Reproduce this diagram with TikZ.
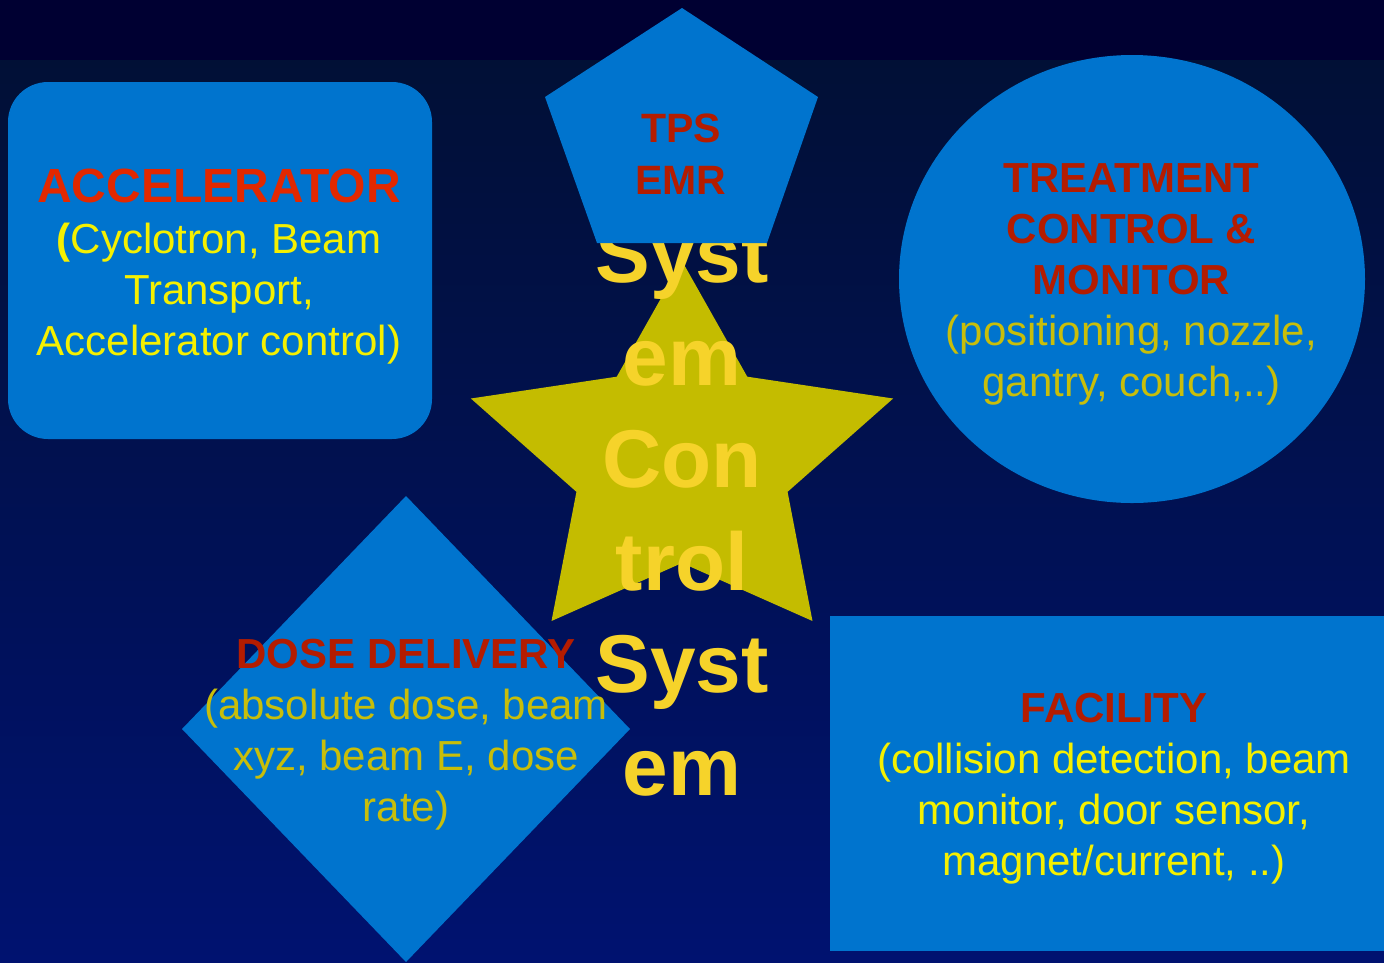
\documentclass[tikz,border=0pt]{standalone}
\usepackage{fontspec}
\setmainfont{Liberation Sans}
\definecolor{SlideTop}{RGB}{0,0,50}
\definecolor{SlideHigh}{RGB}{1,16,54}
\definecolor{SlideLow}{RGB}{0,18,112}
\definecolor{PanelBlue}{RGB}{0,116,206}
\definecolor{StarGold}{RGB}{196,188,0}
\definecolor{StarText}{RGB}{246,211,42}
\definecolor{HeadRed}{RGB}{180,28,0}
\definecolor{HeadBright}{RGB}{226,40,0}
\definecolor{BodyYellow}{RGB}{245,240,0}
\definecolor{BodyOlive}{RGB}{200,190,10}
\newcommand{\blockhead}[1]{{\bfseries\color{HeadRed}#1}}

\begin{document}
\begin{tikzpicture}[x=1pt,y=-1pt,
    panel/.style={fill=PanelBlue},
    blurb/.style={align=center,inner sep=0pt,
                  font=\fontsize{42}{51}\selectfont},
    bigword/.style={align=center,inner sep=0pt,text=StarText,
                    font=\fontsize{82}{102.5}\selectfont\bfseries}]
    \useasboundingbox (0,0) rectangle (1384,962);
    \fill[SlideTop] (0,0) rectangle (1384,60);
    \fill[top color=SlideHigh,bottom color=SlideLow] (0,60) rectangle (1384,962);
    % shapes
    \fill[panel] (406,496) -- (630,729) -- (406,962) -- (182,729) -- cycle;
    \fill[panel,rounded corners=40pt] (8,82) rectangle (432,439);
    \fill[panel] (1132,279) ellipse [x radius=233,y radius=224];
    \fill[panel] (830,616) rectangle (1398,951);
    \fill[StarGold,shift={(682,460)}] (-90:222 and 199)
        \foreach \k in {0,...,4}{ -- (-54+72*\k:111 and 103) -- (-18+72*\k:222 and 199)} -- cycle;
    \node[bigword] (core) at (682,511) {Syst\\em\\Con\\trol\\Syst\\em};
    \fill[panel] (682,8) -- (818,97) -- (767,243) -- (597,243) -- (545,97) -- cycle;
    % texts
    \node[blurb,text=HeadRed,font=\fontsize{41}{52}\selectfont\bfseries] (tps) at (681,154) {TPS\\EMR};
    \node[blurb,text=BodyYellow] (accel) at (219,267)
        {{\fontsize{48}{51}\selectfont\bfseries\color{HeadBright}ACCELERATOR}\\
         {\bfseries(}Cyclotron, Beam\\Transport,\\Accelerator control)};
    \node[blurb,text=BodyOlive] (treat) at (1131.5,284.5)
        {\blockhead{TREATMENT}\\\blockhead{CONTROL \&}\\\blockhead{MONITOR}\\
         (positioning, nozzle,\\gantry, couch,..)};
    \node[blurb,text=BodyOlive] (dose) at (406,735)
        {\blockhead{DOSE DELIVERY}\\(absolute dose, beam\\xyz, beam E, dose\\rate)};
    \node[blurb,text=BodyYellow] (facil) at (1114,789)
        {\blockhead{FACILITY}\\(collision detection, beam\\monitor, door sensor,\\magnet/current, ..)};
\end{tikzpicture}
\end{document}
